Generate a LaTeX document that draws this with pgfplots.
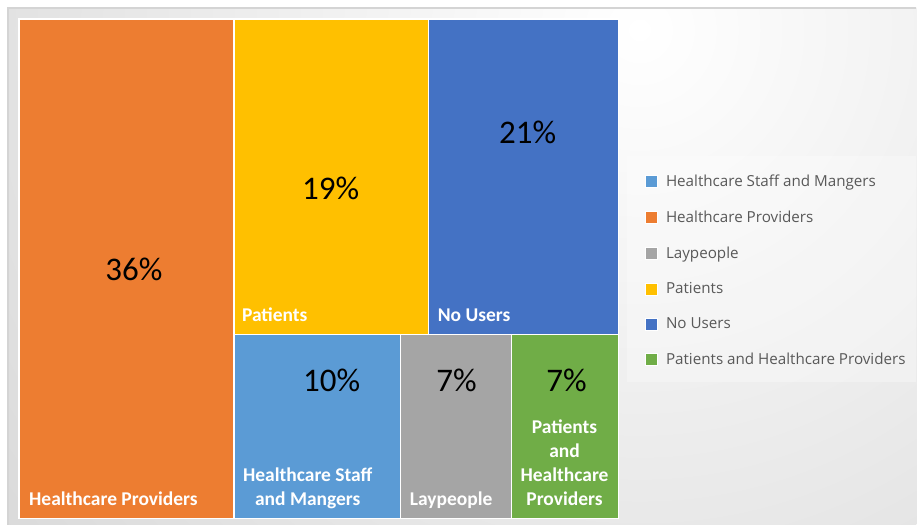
\documentclass[border=0pt]{standalone}
\usepackage{pgfplots}
\pgfplotsset{compat=1.18}
\usepackage{fontspec}
\setmainfont{Carlito}
\newfontfamily\legfont{Open Sans}
\definecolor{cOr}{HTML}{ED7D31}
\definecolor{cYe}{HTML}{FFC000}
\definecolor{cBl}{HTML}{4472C4}
\definecolor{cLB}{HTML}{5B9BD5}
\definecolor{cGr}{HTML}{A5A5A5}
\definecolor{cGn}{HTML}{70AD47}
\definecolor{bgray}{HTML}{C6C6C6}
\definecolor{legtext}{HTML}{595959}
\definecolor{frame}{HTML}{D4D4D4}
\begin{document}
\begin{tikzpicture}
\begin{axis}[
  scale only axis, width=917pt, height=525pt,
  xmin=0, xmax=917, ymin=0, ymax=525, y dir=reverse,
  hide axis, clip=false,
  legend cell align=left,
  legend style={at={(axis cs:645,173)}, anchor=north west, draw=none, fill=none,
    font=\legfont\fontsize{15.2}{18}\selectfont, text=legtext,
    row sep=18.8pt, inner xsep=0pt, inner ysep=0pt,
    nodes={inner sep=2pt}},
  legend image code/.code={\draw[#1,draw=white,line width=0.7pt] (0pt,-6pt) rectangle (12pt,6pt);\path[draw=none,fill=none] (19pt,0pt) circle[radius=0pt];},
]
% background
\fill[white] (axis cs:0,0) rectangle (axis cs:917,525);
\begin{scope}
\clip (axis cs:8,8) rectangle (axis cs:917,525);
\shade[inner color=white, outer color=bgray] (axis cs:640,30) circle [radius=1250pt];
\end{scope}
\draw[frame, line width=1.5pt] (axis cs:8,525) -- (axis cs:8,8) -- (axis cs:917,8);
\fill[white, fill opacity=0.3] (axis cs:628,156) rectangle (axis cs:917,382);

% treemap tiles (legend order)
\addplot[fill=cLB, draw=white, line width=1.5pt] coordinates {(234,335) (401,335) (401,519) (234,519)} -- cycle;
\addlegendentry{Healthcare Staff and Mangers}
\addplot[fill=cOr, draw=white, line width=1.5pt] coordinates {(19,19) (234,19) (234,519) (19,519)} -- cycle;
\addlegendentry{Healthcare Providers}
\addplot[fill=cGr, draw=white, line width=1.5pt] coordinates {(401,335) (512,335) (512,519) (401,519)} -- cycle;
\addlegendentry{Laypeople}
\addplot[fill=cYe, draw=white, line width=1.5pt] coordinates {(234,19) (429,19) (429,335) (234,335)} -- cycle;
\addlegendentry{Patients}
\addplot[fill=cBl, draw=white, line width=1.5pt] coordinates {(429,19) (619,19) (619,335) (429,335)} -- cycle;
\addlegendentry{No Users}
\addplot[fill=cGn, draw=white, line width=1.5pt] coordinates {(512,335) (619,335) (619,519) (512,519)} -- cycle;
\addlegendentry{Patients and Healthcare Providers}

% percentages
\begin{scope}[font=\fontsize{33}{36}\selectfont, text=black]
\node at (axis cs:134,270) {36\%};
\node at (axis cs:331,189) {19\%};
\node at (axis cs:528,132) {21\%};
\node at (axis cs:332,381) {10\%};
\node at (axis cs:457,381) {7\%};
\node at (axis cs:567,381) {7\%};
\end{scope}
% category labels
\begin{scope}[font=\bfseries\fontsize{19.5}{24}\selectfont, text=white, inner sep=0pt]
\node[anchor=base west] at (axis cs:29,506) {Healthcare Providers};
\node[anchor=base west] at (axis cs:242,322) {Patients};
\node[anchor=base west] at (axis cs:438,322) {No Users};
\node[anchor=base west] at (axis cs:410,506) {Laypeople};
\node[anchor=base, align=center] at (axis cs:308,506) {Healthcare Staff\\and Mangers};
\node[anchor=base, align=center] at (axis cs:565,506) {Patients\\and\\Healthcare\\Providers};
\end{scope}
\end{axis}
\end{tikzpicture}
\end{document}
